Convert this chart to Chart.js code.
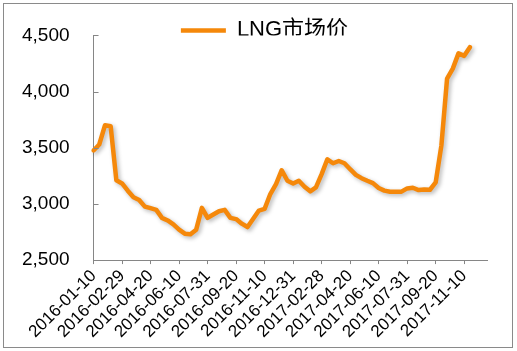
<!DOCTYPE html>
<html>
<head>
<meta charset="utf-8">
<script src="https://cdn.jsdelivr.net/npm/chart.js@4.4.1/dist/chart.umd.min.js"></script>
<style>
    html, body { margin: 0; padding: 0; background: #fff; }
    #wrap { position: relative; width: 517px; height: 351px; }
    #frame { position: absolute; left: 3px; top: 3px; width: 508px; height: 343px; border: 1px solid #8a8a8a; pointer-events: none; }
</style>
</head>
<body>
<div id="wrap">
    <canvas id="lng-chart" width="517" height="351"></canvas>
    <div id="frame"></div>
</div>
<script>
const dates2016 = [
    '2016-01-10','2016-01-20','2016-01-31','2016-02-10','2016-02-20','2016-02-29',
    '2016-03-10','2016-03-20','2016-03-31','2016-04-10','2016-04-20','2016-04-30',
    '2016-05-10','2016-05-20','2016-05-31','2016-06-10','2016-06-20','2016-06-30',
    '2016-07-10','2016-07-20','2016-07-31','2016-08-10','2016-08-20','2016-08-31',
    '2016-09-10','2016-09-20','2016-09-30','2016-10-10','2016-10-20','2016-10-31',
    '2016-11-10','2016-11-20','2016-11-30','2016-12-10','2016-12-20','2016-12-31'
];
const dates2017 = [
    '2017-01-10','2017-01-20','2017-02-10','2017-02-20','2017-02-28',
    '2017-03-10','2017-03-20','2017-03-31','2017-04-10','2017-04-20','2017-04-30',
    '2017-05-10','2017-05-20','2017-05-31','2017-06-10','2017-06-20','2017-06-30',
    '2017-07-10','2017-07-20','2017-07-31','2017-08-10','2017-08-20','2017-08-31',
    '2017-09-10','2017-09-20','2017-09-30','2017-10-10','2017-10-20','2017-10-31',
    '2017-11-10','2017-11-20','2017-11-30','2017-12-10','2017-12-20'
];
const lngPrice = [
    3476, 3529, 3700, 3691, 3210, 3182, 3118, 3059, 3035, 2976,
    2962, 2947, 2876, 2853, 2818, 2771, 2735, 2730, 2771, 2965,
    2876, 2906, 2935, 2947, 2876, 2865, 2824, 2794, 2868, 2941,
    2956, 3088, 3176, 3300, 3206, 3182, 3206, 3153, 3112, 3147,
    3265, 3397, 3362, 3382, 3362, 3309, 3259, 3229, 3206, 3185,
    3141, 3118, 3109, 3109, 3109, 3138, 3144, 3123, 3129, 3126,
    3191, 3520, 4116, 4204, 4340, 4318, 4395
];
const yTicks = [2500, 3000, 3500, 4000, 4500];

const labels = dates2016.concat(dates2017);
const axisGrey = '#868686';
const fontFamily = "'Liberation Sans', Arial, 'Noto Sans CJK SC', sans-serif";

// soft shadow under the line, like the office chart
const lineShadow = {
    id: 'lineShadow',
    beforeDatasetsDraw(chart) {
        const c = chart.ctx;
        c.save();
        c.shadowColor = 'rgba(0,0,0,0.28)';
        c.shadowBlur = 4;
        c.shadowOffsetX = 2;
        c.shadowOffsetY = 2;
    },
    afterDatasetsDraw(chart) { chart.ctx.restore(); }
};

// legend overlaps the top of the plot a bit and sits right of centre
const legendTweak = {
    id: 'legendTweak',
    beforeInit(chart) {
        const fit = chart.legend.fit;
        chart.legend.fit = function () {
            fit.call(this);
            this.height -= 16;
        };
    },
    afterLayout(chart) {
        chart.legend.left += 22;
        chart.legend.right += 22;
    }
};

// y tick marks point inwards
const innerTicks = {
    id: 'innerTicks',
    afterDraw(chart) {
        const c = chart.ctx, y = chart.scales.y, x0 = chart.chartArea.left;
        c.save();
        c.strokeStyle = axisGrey;
        c.lineWidth = 1;
        yTicks.forEach(v => {
            const py = Math.round(y.getPixelForValue(v)) + 0.5;
            c.beginPath();
            c.moveTo(x0, py);
            c.lineTo(x0 + 5, py);
            c.stroke();
        });
        c.restore();
    }
};

new Chart(document.getElementById('lng-chart').getContext('2d'), {
    type: 'line',
    data: {
        labels: labels,
        datasets: [{
            label: 'LNG市场价',
            data: lngPrice,
            borderColor: '#F5880A',
            backgroundColor: '#F5880A',
            borderWidth: 4.5,
            borderJoinStyle: 'round',
            borderCapStyle: 'round',
            pointRadius: 0,
            tension: 0
        }]
    },
    options: {
        responsive: false,
        animation: false,
        layout: { padding: { left: -2, right: 30, top: 8, bottom: 7 } },
        plugins: {
            tooltip: { enabled: false },
            legend: {
                position: 'top',
                labels: {
                    usePointStyle: true,
                    pointStyle: 'line',
                    pointStyleWidth: 45,
                    color: '#000',
                    padding: 4,
                    font: { family: fontFamily, size: 22 }
                }
            }
        },
        scales: {
            x: {
                type: 'category',
                offset: false,
                border: { display: true, color: axisGrey, width: 1 },
                grid: {
                    drawOnChartArea: false,
                    tickLength: 4,
                    color: ctx => (ctx.index % 5 === 0 ? axisGrey : 'rgba(0,0,0,0)')
                },
                ticks: {
                    autoSkip: false,
                    maxRotation: 45,
                    minRotation: 45,
                    padding: 2,
                    color: '#000',
                    font: { family: fontFamily, size: 17 },
                    callback: (v, i) => (i % 5 === 0 ? labels[i] : '')
                }
            },
            y: {
                min: 2500,
                max: 4500,
                border: { display: true, color: axisGrey, width: 1 },
                grid: { drawOnChartArea: false, drawTicks: false },
                afterBuildTicks: axis => { axis.ticks = yTicks.map(v => ({ value: v })); },
                ticks: {
                    padding: 24,
                    color: '#000',
                    font: { family: fontFamily, size: 19 },
                    callback: v => v.toLocaleString('en-US')
                }
            }
        }
    },
    plugins: [lineShadow, legendTweak, innerTicks]
});
</script>
</body>
</html>
